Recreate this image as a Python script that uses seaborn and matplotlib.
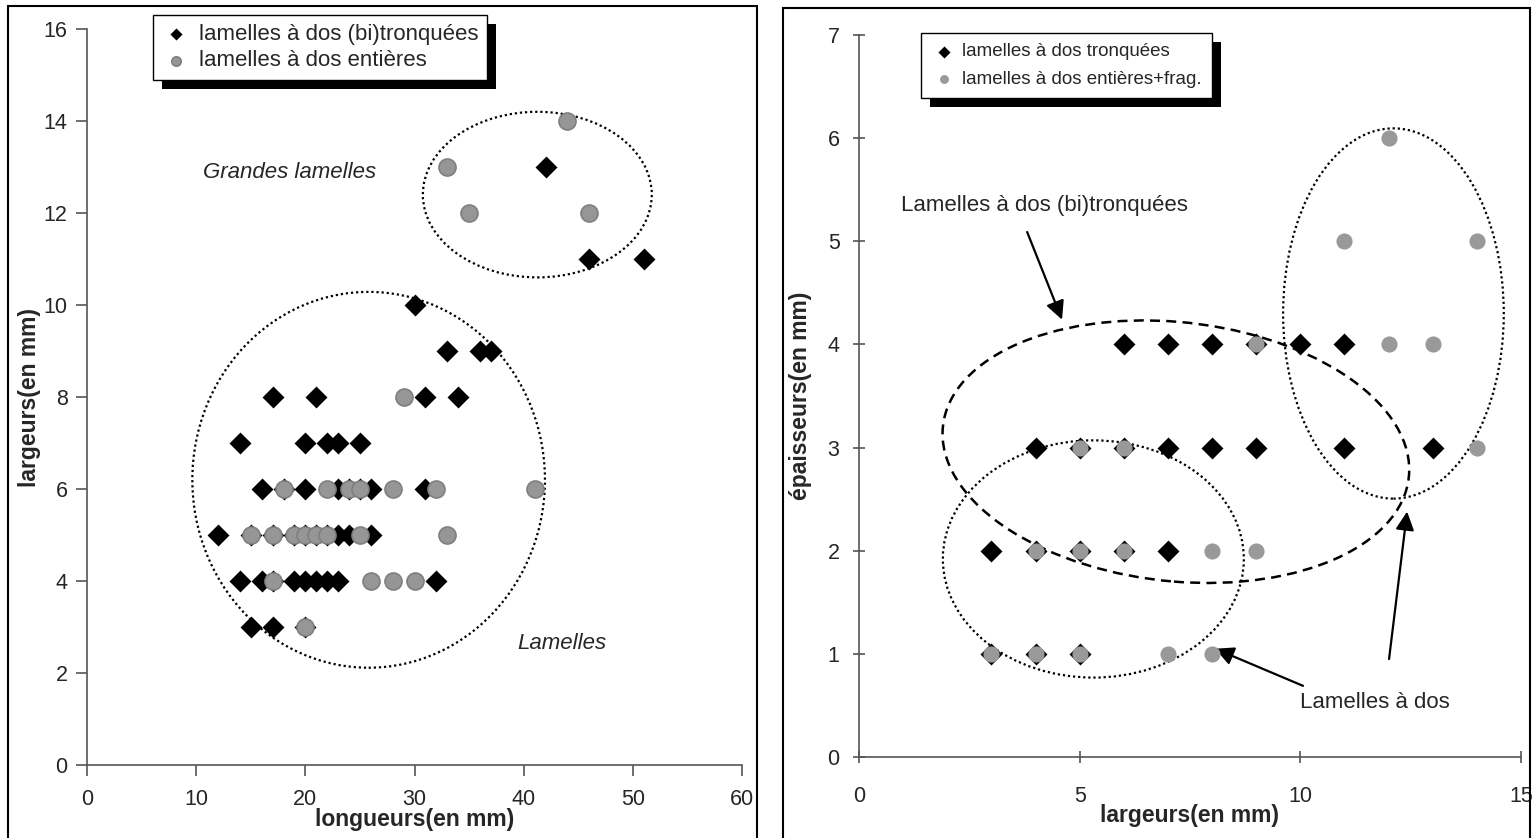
import pandas as pd
import matplotlib
matplotlib.use("Agg")
import matplotlib.pyplot as plt
import seaborn as sns
from matplotlib.patches import Ellipse, Rectangle

sns.set_style("white")
plt.rcParams['font.family'] = ['Liberation Sans', 'DejaVu Sans']

# ---------------- data (left : longueurs / largeurs) ----------------
left_tr_x = [17, 21, 31, 34,
             14, 20, 22, 23, 25,
             16, 18, 20, 23, 24, 25, 26, 31,
             12, 15, 17, 19, 20, 21, 22, 23, 24, 26,
             14, 16, 17, 19, 20, 21, 22, 23, 32,
             15, 17, 20,
             30, 33, 36, 37, 42, 46, 51]
left_tr_y = [8, 8, 8, 8,
             7, 7, 7, 7, 7,
             6, 6, 6, 6, 6, 6, 6, 6,
             5, 5, 5, 5, 5, 5, 5, 5, 5, 5,
             4, 4, 4, 4, 4, 4, 4, 4, 4,
             3, 3, 3,
             10, 9, 9, 9, 13, 11, 11]
left_ent_x = [29,
              18, 22, 24, 25, 28, 32, 41,
              15, 17, 19, 20, 21, 22, 25, 33,
              17, 26, 28, 30,
              20,
              44, 33, 35, 46]
left_ent_y = [8,
              6, 6, 6, 6, 6, 6, 6,
              5, 5, 5, 5, 5, 5, 5, 5,
              4, 4, 4, 4,
              3,
              14, 13, 12, 12]

# ---------------- data (right : largeurs / epaisseurs) ----------------
right_tr_x = [6, 7, 8, 9, 10, 11,
              4, 5, 6, 7, 8, 9, 11, 13,
              3, 4, 5, 6, 7,
              3, 4, 5]
right_tr_y = [4, 4, 4, 4, 4, 4,
              3, 3, 3, 3, 3, 3, 3, 3,
              2, 2, 2, 2, 2,
              1, 1, 1]
right_ent_x = [12, 11, 14, 9, 12, 13, 5, 6, 14, 4, 5, 6, 8, 9, 3, 4, 5, 7, 8]
right_ent_y = [6, 5, 5, 4, 4, 4, 3, 3, 3, 2, 2, 2, 2, 2, 1, 1, 1, 1, 1]

df_lt = pd.DataFrame({"x": left_tr_x, "y": left_tr_y})
df_le = pd.DataFrame({"x": left_ent_x, "y": left_ent_y})
df_rt = pd.DataFrame({"x": right_tr_x, "y": right_tr_y})
df_re = pd.DataFrame({"x": right_ent_x, "y": right_ent_y})

W, H = 1533, 838
fig = plt.figure(figsize=(W / 100, H / 100), dpi=100)
ax1 = fig.add_axes([87 / W, 1 - 765 / H, 655 / W, 736 / H])
ax2 = fig.add_axes([859 / W, 1 - 757 / H, 662 / W, 722 / H])

FS = 15.5

# chart borders
fig.patches.append(Rectangle((8 / W, -0.01), 749 / W, 1 - 6 / H + 0.01, transform=fig.transFigure,
                             fill=False, edgecolor='black', lw=1.5, zorder=0))
fig.patches.append(Rectangle((783 / W, -0.01), 747 / W, 1 - 8 / H + 0.01, transform=fig.transFigure,
                             fill=False, edgecolor='black', lw=1.5, zorder=0))

# ---------------- left panel ----------------
sns.scatterplot(data=df_lt, x="x", y="y", ax=ax1, marker="D", s=125, color="black",
                edgecolor="black", linewidth=0, label="lamelles à dos (bi)tronquées", zorder=3)
sns.scatterplot(data=df_le, x="x", y="y", ax=ax1, marker="o", s=150, color="#969696",
                edgecolor="#7f7f7f", linewidth=1.2, label="lamelles à dos entières", zorder=4)
ax1.set_xlim(0, 60)
ax1.set_ylim(0, 16)
ax1.set_xticks(range(0, 61, 10))
ax1.set_yticks(range(0, 17, 2))
ax1.set_xlabel("longueurs(en mm)", fontsize=16.5, fontweight="bold", labelpad=-1.5)
ax1.set_ylabel("largeurs(en mm)", fontsize=16.5, fontweight="bold", labelpad=2)

ax1.add_patch(Ellipse((41.25, 12.4), 20.97, 3.6, fill=False, edgecolor="black",
                      linestyle=(0, (1, 1.3)), lw=1.6, zorder=2))
ax1.add_patch(Ellipse((25.8, 6.2), 32.3, 8.17, fill=False, edgecolor="black",
                      linestyle=(0, (1, 1.3)), lw=1.6, zorder=2))
ax1.text(18.6, 12.87, "Grandes lamelles", fontsize=16, style="italic", ha="center", va="center")
ax1.text(43.5, 2.65, "Lamelles", fontsize=16, style="italic", ha="center", va="center")

# ---------------- right panel ----------------
sns.scatterplot(data=df_rt, x="x", y="y", ax=ax2, marker="D", s=125, color="black",
                edgecolor="black", linewidth=0, label="lamelles à dos tronquées", zorder=3)
sns.scatterplot(data=df_re, x="x", y="y", ax=ax2, marker="o", s=135, color="#999999",
                edgecolor="#999999", linewidth=0, label="lamelles à dos entières+frag.", zorder=4)
ax2.set_xlim(0, 15)
ax2.set_ylim(0, 7)
ax2.set_xticks([0, 5, 10, 15])
ax2.set_yticks(range(0, 8))
ax2.set_xlabel("largeurs(en mm)", fontsize=16.5, fontweight="bold", labelpad=-2)
ax2.set_ylabel("épaisseurs(en mm)", fontsize=16.5, fontweight="bold", labelpad=11)

ax2.add_patch(Ellipse((5.31, 1.92), 6.82, 2.3, fill=False, edgecolor="black",
                      linestyle=(0, (1, 1.3)), lw=1.6, zorder=2))
ax2.add_patch(Ellipse((12.11, 4.30), 5.0, 3.59, fill=False, edgecolor="black",
                      linestyle=(0, (1, 1.3)), lw=1.6, zorder=2))
ax2.add_patch(Ellipse((7.18, 2.96), 10.58, 2.52, angle=-2, fill=False, edgecolor="black",
                      linestyle=(0, (4, 2.5)), lw=1.8, zorder=2))

ax2.text(4.21, 5.35, "Lamelles à dos (bi)tronquées", fontsize=16, ha="center", va="center")
ax2.text(11.69, 0.53, "Lamelles à dos", fontsize=16, ha="center", va="center")
arr = dict(arrowstyle="-|>", mutation_scale=28, color="black", lw=1.6, shrinkA=0, shrinkB=0)
ax2.annotate("", xy=(4.6, 4.24), xytext=(3.81, 5.09), arrowprops=arr)
ax2.annotate("", xy=(8.07, 1.05), xytext=(10.06, 0.69), arrowprops=arr)
ax2.annotate("", xy=(12.42, 2.38), xytext=(12.01, 0.95), arrowprops=arr)

# ---------------- axes styling ----------------
for ax in (ax1, ax2):
    ax.set_facecolor("none")
    for side in ["top", "right"]:
        ax.spines[side].set_visible(False)
    for side in ["left", "bottom"]:
        ax.spines[side].set_color("#555555")
        ax.spines[side].set_linewidth(1.2)
ax1.tick_params(direction="out", length=8, width=1.2, color="#555555",
                labelsize=FS, left=True, bottom=True)
ax1.tick_params(axis="x", pad=9)
ax1.tick_params(axis="y", pad=6)
ax2.tick_params(direction="inout", length=8, width=1.2, color="#555555",
                labelsize=FS, left=True, bottom=True)
ax2.tick_params(axis="x", pad=17)
ax2.tick_params(axis="y", pad=10)

# ---------------- legends with black shadow ----------------
legs = []
for ax, (lx, ly), fs, lsp, bpad in [(ax1, (153, 15), 16, 0.25, 0.4),
                                    (ax2, (921, 33), 13.5, 0.55, 0.55)]:
    leg = ax.legend(loc="upper left", bbox_to_anchor=(lx / W, 1 - ly / H),
                    bbox_transform=fig.transFigure, borderaxespad=0, fontsize=fs,
                    frameon=True, fancybox=False, framealpha=1, markerscale=0.55,
                    handlelength=1.3, handletextpad=0.35, borderpad=bpad, labelspacing=lsp)
    leg.get_frame().set_edgecolor("black")
    leg.get_frame().set_facecolor("white")
    leg.get_frame().set_linewidth(1.0)
    leg.set_zorder(10)
    legs.append((ax, leg))

fig.canvas.draw()
for ax, leg in legs:
    bb = leg.get_window_extent()
    ax.add_artist(Rectangle(((bb.x0 + 9) / W, (bb.y0 - 9) / H), bb.width / W, bb.height / H,
                            transform=fig.transFigure, facecolor="black", edgecolor="none",
                            clip_on=False, zorder=9))

fig.savefig("out.png", dpi=100)
